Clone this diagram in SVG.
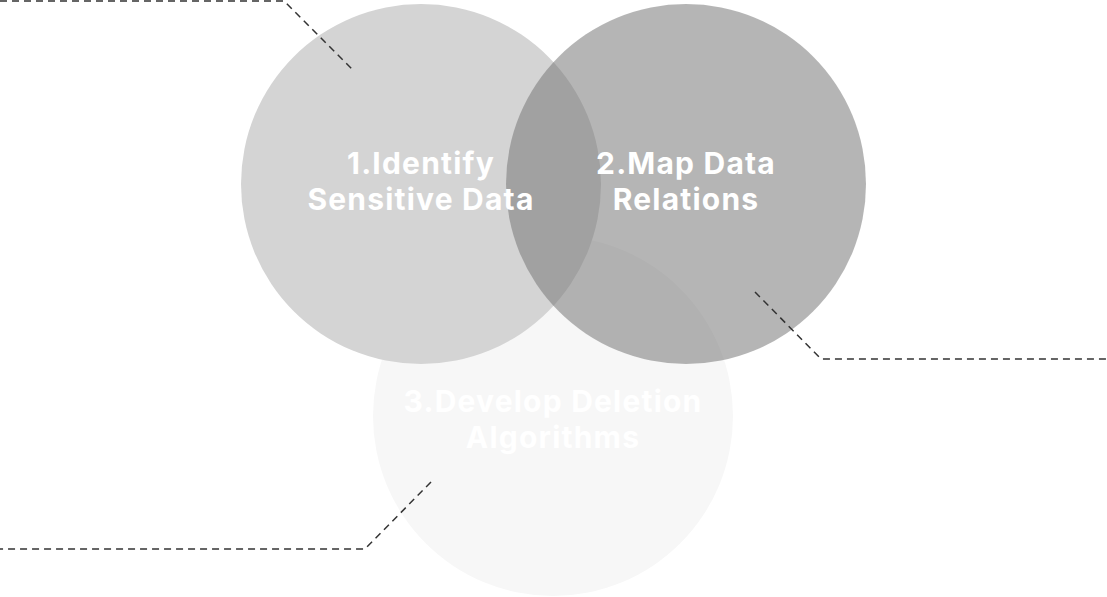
<svg xmlns="http://www.w3.org/2000/svg" width="1107" height="597" viewBox="0 0 1107 597">
<style>
.lbl{font-family:Inter,"Liberation Sans",sans-serif;font-weight:700;font-size:30px;letter-spacing:1.2px;fill:#ffffff;text-anchor:middle}
.conn{fill:none;stroke:#333333;stroke-width:1.5;stroke-dasharray:7 5}
</style>
<rect width="1107" height="597" fill="#ffffff"/>
<g id="node3">
<circle cx="553" cy="416" r="180" fill="#f7f7f7"/>
<text class="lbl" x="553" y="412">3.Develop Deletion</text>
<text class="lbl" x="553" y="448">Algorithms</text>
</g>
<g id="node1">
<circle cx="421" cy="184" r="180" fill="#d4d4d4"/>
</g>
<g id="node2">
<circle cx="686" cy="184" r="180" fill="#757575" fill-opacity="0.535"/>
</g>
<g id="labels">
<text class="lbl" x="421" y="174">1.Identify</text>
<text class="lbl" x="421" y="210">Sensitive Data</text>
<text class="lbl" x="686" y="174">2.Map Data</text>
<text class="lbl" x="686" y="210">Relations</text>
</g>
<g id="connectors">
<path class="conn" d="M0 1 H284 L352 69"/>
<path class="conn" d="M755 292 L821 359 H1107"/>
<path class="conn" d="M431 482 L365 549 H0"/>
</g>
</svg>
